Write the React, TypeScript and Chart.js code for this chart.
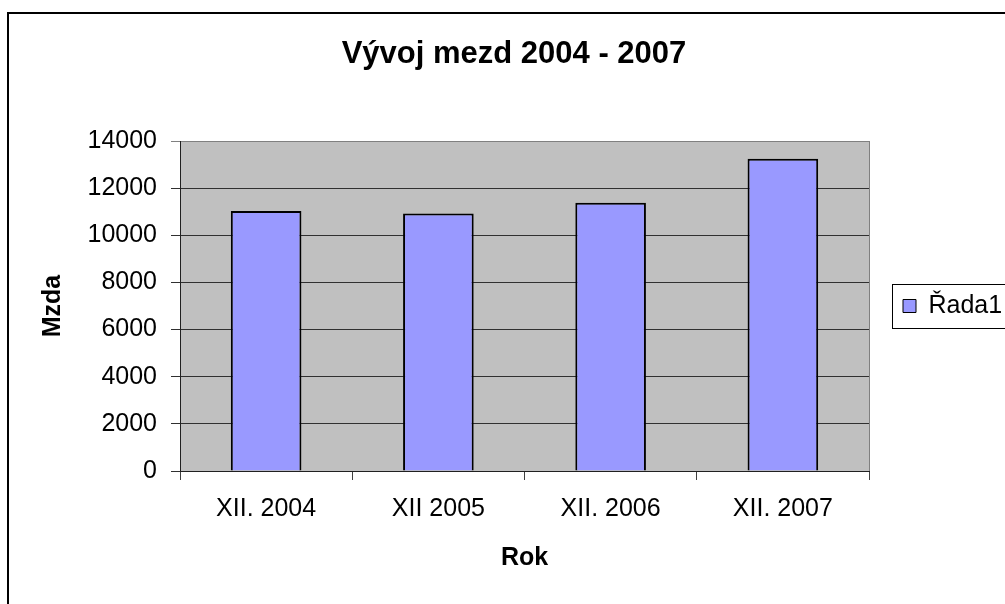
import React, { useEffect, useRef } from "react";
import { Chart, registerables } from "chart.js";

Chart.register(...registerables);

const chartTitle = "Vývoj mezd 2004 - 2007";
const categories = ["XII. 2004", "XII 2005", "XII. 2006", "XII. 2007"];
const seriesName = "Řada1";
const seriesValues = [11030, 10920, 11380, 13250];
const yTitle = "Mzda";
const xTitle = "Rok";
const yMin = 0;
const yMax = 14000;
const yStep = 2000;

const FONT = "'Liberation Sans', Arial, Helvetica, sans-serif";
const BAR_FILL = "#9999FF";
const PLOT_BG = "#C0C0C0";

const plotBgPlugin = {
  id: "plotBg",
  beforeDraw(chart: any) {
    const { ctx, chartArea } = chart;
    if (!chartArea) return;
    ctx.save();
    ctx.fillStyle = PLOT_BG;
    ctx.fillRect(chartArea.left, chartArea.top, chartArea.right - chartArea.left, chartArea.bottom - chartArea.top);
    ctx.restore();
  },
  beforeDatasetsDraw(chart: any) {
    const { ctx, chartArea } = chart;
    ctx.save();
    ctx.strokeStyle = "#808080";
    ctx.lineWidth = 1;
    ctx.beginPath();
    const x = Math.round(chartArea.right) + 0.5;
    ctx.moveTo(x, chartArea.top);
    ctx.lineTo(x, chartArea.bottom);
    ctx.stroke();
    ctx.restore();
  },
};

const legendPlugin = {
  id: "legendFrame",
  beforeUpdate(chart: any) {
    const lg = chart.legend;
    if (lg && !lg.__patched) {
      const orig = lg.fit.bind(lg);
      lg.fit = () => {
        orig();
        lg.width = 159;
      };
      lg.__patched = true;
    }
  },
  afterDraw(chart: any) {
    const lg = chart.legend;
    if (!lg || !lg.legendHitBoxes || !lg.legendHitBoxes.length) return;
    const hb = lg.legendHitBoxes[0];
    const cy = hb.top + hb.height / 2;
    const { ctx } = chart;
    ctx.save();
    ctx.strokeStyle = "#000";
    ctx.lineWidth = 1;
    ctx.strokeRect(Math.round(hb.left - 11) + 0.5, Math.round(cy - 22) + 0.5, 300, 44);
    ctx.restore();
  },
};

export default function App() {
  const canvasRef = useRef<HTMLCanvasElement | null>(null);

  useEffect(() => {
    const canvas = canvasRef.current;
    if (!canvas) return;
    const chart = new Chart(canvas, {
      type: "bar",
      data: {
        labels: categories,
        datasets: [
          {
            label: seriesName,
            data: seriesValues,
            backgroundColor: BAR_FILL,
            borderColor: "#000000",
            borderWidth: 2,
            barPercentage: 0.41,
            categoryPercentage: 1.0,
          },
        ],
      },
      options: {
        responsive: false,
        animation: false,
        devicePixelRatio: 1,
        layout: { padding: 0 },
        plugins: {
          title: {
            display: true,
            text: chartTitle,
            color: "#000",
            font: { family: FONT, size: 31, weight: "bold" },
            padding: { top: 36, bottom: 67.8 },
          },
          legend: {
            display: true,
            position: "right",
            fullSize: false,
            labels: {
              color: "#000",
              font: { family: FONT, size: 25 },
              boxWidth: 13,
              boxHeight: 13,
              padding: 34,
              generateLabels: (c: any) =>
                Chart.defaults.plugins.legend.labels
                  .generateLabels(c)
                  .map((l: any) => ({ ...l, lineWidth: 1, strokeStyle: "#000" })),
            },
          },
          tooltip: { enabled: false },
        },
        scales: {
          x: {
            grid: {
              display: true,
              drawOnChartArea: false,
              drawTicks: true,
              tickLength: 9,
              color: "#404040",
              offset: true,
            },
            border: { display: true, color: "#202020", width: 1 },
            ticks: {
              color: "#000",
              font: { family: FONT, size: 25 },
              padding: 14,
              maxRotation: 0,
              autoSkip: false,
            },
            title: {
              display: true,
              text: xTitle,
              color: "#000",
              font: { family: FONT, size: 25, weight: "bold" },
              padding: { top: 0, bottom: 31 },
            },
            afterFit(scale: any) {
              scale.height = 133;
            },
          },
          y: {
            min: yMin,
            max: yMax,
            grid: {
              display: true,
              drawTicks: true,
              tickLength: 9,
              color: (ctx: any) => (ctx.tick && ctx.tick.value === yMax ? "#808080" : "#303030"),
              lineWidth: 1,
            },
            border: { display: true, color: "#202020", width: 1 },
            ticks: {
              stepSize: yStep,
              color: "#000",
              font: { family: FONT, size: 25 },
              padding: 14,
              callback: (v: any) => String(v),
            },
            title: {
              display: true,
              text: yTitle,
              color: "#000",
              font: { family: FONT, size: 25, weight: "bold" },
              padding: { top: 38, bottom: 0 },
            },
            afterFit(scale: any) {
              scale.width = 180;
            },
          },
        },
      },
      plugins: [plotBgPlugin, legendPlugin],
    } as any);
    return () => chart.destroy();
  }, []);

  return (
    <div
      style={{
        position: "fixed",
        left: 0,
        top: 0,
        width: 1005,
        height: 604,
        overflow: "hidden",
        background: "#fff",
      }}
    >
      <div
        style={{
          position: "absolute",
          left: 7,
          top: 12,
          width: 1100,
          height: 700,
          border: "2px solid #000",
        }}
      />
      <canvas
        ref={canvasRef}
        width={1028}
        height={604}
        style={{ position: "absolute", left: 0, top: 0, width: 1028, height: 604 }}
      />
    </div>
  );
}
